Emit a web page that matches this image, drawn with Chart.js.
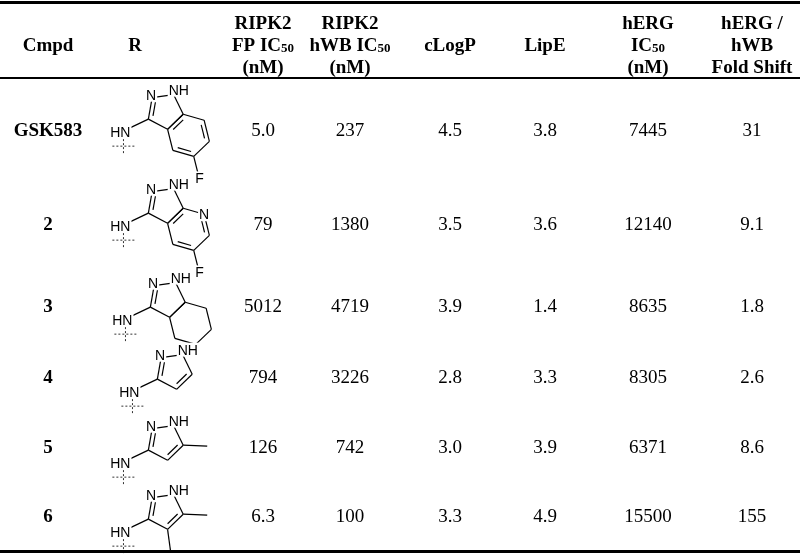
<!DOCTYPE html>
<html>
<head>
<meta charset="utf-8">
<script src="https://cdn.jsdelivr.net/npm/chart.js@4.4.0/dist/chart.umd.min.js"></script>
<style>
  html, body { margin: 0; padding: 0; background: #fff; }
  #wrap { width: 800px; height: 555px; }
</style>
</head>
<body>
<div id="wrap"><canvas id="tbl" width="800" height="555"></canvas></div>
<script>
// table data
const headers = [
  ['Cmpd'], ['R'],
  ['RIPK2', 'FP IC_50', '(nM)'],
  ['RIPK2', 'hWB IC_50', '(nM)'],
  ['cLogP'], ['LipE'],
  ['hERG', 'IC_50', '(nM)'],
  ['hERG /', 'hWB', 'Fold Shift']
];
const compounds = ['GSK583', '2', '3', '4', '5', '6'];
const rGroups   = ['indazoleF', 'azaindazoleF', 'tetrahydro', 'pyrazole', 'methyl', 'dimethyl'];
const fpIC50    = ['5.0', '79', '5012', '794', '126', '6.3'];
const hwbIC50   = ['237', '1380', '4719', '3226', '742', '100'];
const cLogP     = ['4.5', '3.5', '3.9', '2.8', '3.0', '3.3'];
const lipE      = ['3.8', '3.6', '1.4', '3.3', '3.9', '4.9'];
const hergIC50  = ['7445', '12140', '8635', '8305', '6371', '15500'];
const foldShift = ['31', '9.1', '1.8', '2.6', '8.6', '155'];

// layout (table coordinates, mapped through the chart scales)
const colX = [48, 135, 263, 350, 450, 545, 648, 752];
const rowY = [131, 225, 307, 378, 448, 517];
const ringC = [[165, 111], [165, 205], [167, 299], [174, 371], [165, 442], [165, 511]];
const SERIF = '"Liberation Serif", "Times New Roman", serif';
const SANS = '"Liberation Sans", Arial, sans-serif';
const FS = 19;

function drawRich(ctx, s, x, y, size, bold){
  const w = bold ? 'bold ' : '';
  const parts = s.split('_');
  ctx.font = w + size + 'px ' + SERIF;
  const w1 = ctx.measureText(parts[0]).width;
  let w2 = 0;
  if (parts[1]) { ctx.font = w + Math.round(size * 0.68) + 'px ' + SERIF; w2 = ctx.measureText(parts[1]).width; }
  let x0 = x - (w1 + w2) / 2;
  ctx.textAlign = 'left';
  ctx.font = w + size + 'px ' + SERIF;
  ctx.fillText(parts[0], x0, y);
  if (parts[1]) {
    ctx.font = w + Math.round(size * 0.68) + 'px ' + SERIF;
    ctx.fillText(parts[1], x0 + w1, y + 3);
  }
}

function label(ctx, t, x, y, size){
  ctx.font = (size || 14) + 'px ' + SANS;
  const w = ctx.measureText(t).width;
  ctx.fillStyle = '#fff';
  ctx.fillRect(x - w / 2 - 1, y - 7, w + 2, 14);
  ctx.fillStyle = '#000';
  ctx.textAlign = 'center';
  ctx.fillText(t, x, y + 1);
}

function line(ctx, a, b){ ctx.beginPath(); ctx.moveTo(a[0], a[1]); ctx.lineTo(b[0], b[1]); ctx.stroke(); }
function inner(ctx, a, b, c){
  // double bond line shifted toward ring centre c
  const mx = (a[0] + b[0]) / 2, my = (a[1] + b[1]) / 2;
  const dx = c[0] - mx, dy = c[1] - my, d = Math.hypot(dx, dy);
  const ox = dx / d * 4, oy = dy / d * 4;
  const s = 0.18;
  const p = [a[0] + (b[0] - a[0]) * s + ox, a[1] + (b[1] - a[1]) * s + oy];
  const q = [b[0] + (a[0] - b[0]) * s + ox, b[1] + (a[1] - b[1]) * s + oy];
  line(ctx, p, q);
}

function drawR(ctx, kind, cx, cy){
  ctx.strokeStyle = '#000'; ctx.lineWidth = 1.2; ctx.setLineDash([]);
  const R5 = 18.5, rot = -8 * Math.PI / 180;
  const ang = [162, 234, 306, 18, 90].map(a => a * Math.PI / 180 + rot);
  const P = ang.map(a => [cx + R5 * Math.cos(a), cy + R5 * Math.sin(a)]);
  const [C3, N2, N1, C5, C4] = P;
  const c5 = [cx, cy];
  // pyrazole ring bonds
  line(ctx, C3, N2); inner(ctx, C3, N2, c5);
  line(ctx, N1, C5); line(ctx, C5, C4); line(ctx, C4, C3);
  line(ctx, N2, N1);
  let hexPts = null, hc = null;
  if (kind === 'indazoleF' || kind === 'azaindazoleF' || kind === 'tetrahydro') {
    // six ring fused on C5-C4 bond
    const L = Math.hypot(C5[0] - C4[0], C5[1] - C4[1]);
    const mx = (C5[0] + C4[0]) / 2, my = (C5[1] + C4[1]) / 2;
    const dx = mx - cx, dy = my - cy, d = Math.hypot(dx, dy);
    const ap = L * Math.sqrt(3) / 2;
    hc = [mx + dx / d * ap, my + dy / d * ap];
    const a0 = Math.atan2(C5[1] - hc[1], C5[0] - hc[0]);
    const a1 = Math.atan2(C4[1] - hc[1], C4[0] - hc[0]);
    let step = a1 - a0; while (step > Math.PI) step -= 2 * Math.PI; while (step < -Math.PI) step += 2 * Math.PI;
    const sgn = step > 0 ? -1 : 1;
    hexPts = [];
    for (let k = 0; k < 6; k++) { const a = a0 + sgn * k * Math.PI / 3; hexPts.push([hc[0] + L * Math.cos(a), hc[1] + L * Math.sin(a)]); }
    for (let k = 0; k < 6; k++) line(ctx, hexPts[k], hexPts[(k + 1) % 6]);
    if (kind !== 'tetrahydro') {
      inner(ctx, hexPts[1], hexPts[2], hc);
      inner(ctx, hexPts[3], hexPts[4], hc);
      inner(ctx, hexPts[5], hexPts[0], hc);
    }
    if (kind !== 'tetrahydro') {
      const F = hexPts[3];
      const fv = [F[0] + (F[0] - hc[0]) * 0.9, F[1] + (F[1] - hc[1]) * 0.9];
      line(ctx, F, fv);
      label(ctx, 'F', fv[0] + 1, fv[1] + 3);
    }
  } else {
    inner(ctx, C5, C4, c5);
    if (kind === 'methyl' || kind === 'dimethyl') {
      line(ctx, C5, [C5[0] + 24, C5[1] + 1]);
    }
    if (kind === 'dimethyl') {
      line(ctx, C4, [C4[0] + 3, C4[1] + 22]);
    }
  }
  // NH linker
  const hn = [C3[0] - 28, C3[1] + 13];
  line(ctx, C3, [hn[0] + 7, hn[1] - 3]);
  label(ctx, 'HN', hn[0], hn[1]);
  ctx.lineWidth = 0.8; ctx.setLineDash([2, 2]);
  line(ctx, [hn[0] + 3, hn[1] + 7], [hn[0] + 3, hn[1] + 22]);
  line(ctx, [hn[0] - 8, hn[1] + 14], [hn[0] + 15, hn[1] + 14]);
  ctx.setLineDash([]); ctx.lineWidth = 1.2;
  // ring labels
  label(ctx, 'N', N2[0] - 1, N2[1] - 3);
  ctx.font = '14px ' + SANS;
  const nhW = ctx.measureText('NH').width;
  label(ctx, 'NH', N1[0] + nhW / 2 - 5, N1[1] - 5);
  if (kind === 'azaindazoleF') label(ctx, 'N', hexPts[1][0], hexPts[1][1]);
}

const tablePlugin = {
  id: 'tablePlugin',
  afterDraw(chart){
    const ctx = chart.ctx, xs = chart.scales.x, ys = chart.scales.y;
    const X = v => xs.getPixelForValue(v), Y = v => ys.getPixelForValue(v);
    ctx.save();
    ctx.fillStyle = '#000'; ctx.textBaseline = 'middle';
    // rules
    ctx.fillRect(X(0), Y(1), X(800) - X(0), 3);
    ctx.fillRect(X(0), Y(77), X(800) - X(0), 2);
    ctx.fillRect(X(0), Y(550), X(800) - X(0), 3);
    // headers
    headers.forEach((h, i) => {
      const lines = h.length;
      h.forEach((t, j) => {
        const yy = lines === 1 ? 46 : 24 + j * 22;
        ctx.fillStyle = '#000';
        drawRich(ctx, t, X(colX[i]), Y(yy), FS, true);
      });
    });
    const cols = [fpIC50, hwbIC50, cLogP, lipE, hergIC50, foldShift];
    compounds.forEach((c, r) => {
      ctx.fillStyle = '#000';
      drawRich(ctx, c, X(colX[0]), Y(rowY[r]), FS, true);
      cols.forEach((arr, k) => {
        ctx.fillStyle = '#000';
        drawRich(ctx, arr[r], X(colX[k + 2]), Y(rowY[r]), FS, false);
      });
      drawR(ctx, rGroups[r], X(ringC[r][0]), Y(ringC[r][1]));
    });
    ctx.restore();
  }
};

new Chart(document.getElementById('tbl').getContext('2d'), {
  type: 'scatter',
  data: { datasets: [{ data: compounds.map((c, r) => ({ x: colX[0], y: rowY[r] })), pointRadius: 0 }] },
  options: {
    responsive: false, animation: false,
    layout: { padding: 0 },
    plugins: { legend: { display: false }, tooltip: { enabled: false } },
    scales: {
      x: { type: 'linear', min: 0, max: 800, display: false },
      y: { type: 'linear', min: 0, max: 555, reverse: true, display: false }
    }
  },
  plugins: [tablePlugin]
});
</script>
</body>
</html>
